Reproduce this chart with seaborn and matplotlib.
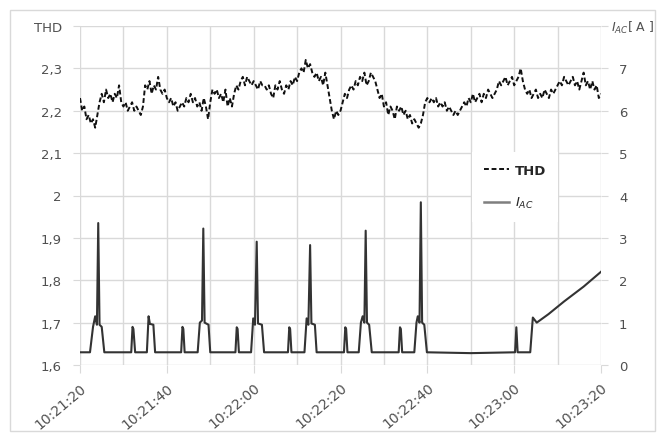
import numpy as np
import pandas as pd
import matplotlib
matplotlib.use("Agg")
import matplotlib.pyplot as plt
from matplotlib.lines import Line2D
from matplotlib.patches import Rectangle
from matplotlib.ticker import MultipleLocator
import seaborn as sns

# ---------------- data ----------------
# seconds after 10:21:20
thd_time = np.arange(0, 120.5, 0.5)
thd_values = [
    2.23, 2.20, 2.21, 2.18, 2.19, 2.17, 2.18, 2.16, 2.19, 2.22,
    2.24, 2.22, 2.25, 2.23, 2.24, 2.22, 2.24, 2.23, 2.26, 2.22,
    2.21, 2.22, 2.20, 2.21, 2.22, 2.20, 2.21, 2.20, 2.19, 2.21,
    2.26, 2.25, 2.27, 2.24, 2.26, 2.25, 2.28, 2.25, 2.24, 2.25,
    2.23, 2.22, 2.23, 2.21, 2.22, 2.20, 2.21, 2.22, 2.21, 2.23,
    2.22, 2.24, 2.22, 2.23, 2.21, 2.22, 2.20, 2.23, 2.21, 2.18,
    2.22, 2.25, 2.24, 2.25, 2.23, 2.24, 2.22, 2.25, 2.21, 2.23,
    2.21, 2.24, 2.26, 2.25, 2.27, 2.28, 2.26, 2.28, 2.27, 2.26,
    2.27, 2.26, 2.25, 2.27, 2.26, 2.26, 2.25, 2.26, 2.24, 2.23,
    2.26, 2.25, 2.27, 2.25, 2.24, 2.26, 2.25, 2.27, 2.26, 2.28,
    2.27, 2.29, 2.30, 2.29, 2.32, 2.30, 2.31, 2.29, 2.28, 2.29,
    2.27, 2.28, 2.26, 2.29, 2.26, 2.23, 2.20, 2.18, 2.20, 2.19,
    2.20, 2.22, 2.24, 2.23, 2.25, 2.26, 2.25, 2.27, 2.26, 2.28,
    2.27, 2.29, 2.26, 2.27, 2.29, 2.28, 2.27, 2.25, 2.23, 2.24,
    2.21, 2.22, 2.19, 2.21, 2.20, 2.18, 2.21, 2.20, 2.21, 2.19,
    2.20, 2.18, 2.19, 2.17, 2.18, 2.17, 2.16, 2.17, 2.19, 2.22,
    2.23, 2.22, 2.23, 2.22, 2.23, 2.21, 2.22, 2.21, 2.22, 2.20,
    2.21, 2.20, 2.19, 2.20, 2.19, 2.20, 2.21, 2.22, 2.21, 2.23,
    2.22, 2.24, 2.22, 2.23, 2.24, 2.22, 2.24, 2.23, 2.25, 2.24,
    2.23, 2.24, 2.25, 2.27, 2.26, 2.27, 2.28, 2.26, 2.27, 2.28,
    2.26, 2.27, 2.28, 2.30, 2.27, 2.25, 2.24, 2.25, 2.23, 2.24,
    2.25, 2.23, 2.24, 2.23, 2.25, 2.24, 2.23, 2.25, 2.24, 2.25,
    2.26, 2.27, 2.26, 2.28, 2.27, 2.26, 2.27, 2.28, 2.26, 2.27,
    2.25, 2.27, 2.29, 2.26, 2.27, 2.25, 2.27, 2.25, 2.26, 2.23,
    2.24,
]

iac_time = [
    0, 2.3, 3.0, 3.5, 3.9, 4.2, 4.5, 5.0, 5.6,
    11.8, 12.1, 12.3, 12.7,
    15.4, 15.8, 16.1, 16.9, 17.3,
    23.3, 23.6, 23.8, 24.1,
    27.1, 27.6, 28.1, 28.4, 28.7, 29.6, 30.0,
    35.8, 36.1, 36.3, 36.6,
    39.4, 39.9, 40.3, 40.7, 41.0, 41.9, 42.4,
    47.9, 48.2, 48.4, 48.7,
    51.7, 52.2, 52.6, 53.0, 53.3, 54.1, 54.5,
    60.8, 61.1, 61.3, 61.6,
    64.2, 64.7, 65.1, 65.5, 65.8, 66.1, 66.6, 67.2,
    73.4, 73.7, 73.9, 74.2,
    77.0, 77.5, 77.8, 78.2, 78.5, 78.8, 79.3, 79.9,
    90.0, 100.2, 100.5, 100.8,
    103.7, 104.3, 105.2, 107.9, 111.5, 116.0, 120.0,
]
iac_values = [
    0.3, 0.3, 0.9, 1.15, 0.95, 3.35, 0.95, 0.9, 0.3,
    0.3, 0.9, 0.85, 0.3,
    0.3, 1.15, 0.97, 0.95, 0.3,
    0.3, 0.9, 0.85, 0.3,
    0.3, 1.0, 1.05, 3.22, 1.0, 0.95, 0.3,
    0.3, 0.89, 0.85, 0.3,
    0.3, 1.1, 0.95, 2.91, 0.98, 0.95, 0.3,
    0.3, 0.89, 0.85, 0.3,
    0.3, 1.1, 0.95, 2.83, 0.98, 0.95, 0.3,
    0.3, 0.89, 0.85, 0.3,
    0.3, 1.0, 1.15, 1.0, 3.17, 1.0, 0.95, 0.3,
    0.3, 0.89, 0.85, 0.3,
    0.3, 1.0, 1.15, 1.0, 3.84, 1.0, 0.95, 0.3,
    0.28, 0.3, 0.89, 0.3,
    0.3, 1.12, 1.0, 1.2, 1.5, 1.85, 2.2,
]

x_tick_pos = [0, 20, 40, 60, 80, 100, 120]
x_tick_labels = ["10:21:20", "10:21:40", "10:22:00", "10:22:20",
                 "10:22:40", "10:23:00", "10:23:20"]
thd_ticks = [1.6, 1.7, 1.8, 1.9, 2.0, 2.1, 2.2, 2.3, 2.4]
iac_ticks = [0, 1, 2, 3, 4, 5, 6, 7, 8]

# ---------------- plot ----------------
plt.rcParams['font.family'] = ['DejaVu Sans']
plt.rcParams['font.size'] = 9.5

grid_c = "#d9d9d9"
text_c = "#505050"

fig = plt.figure(figsize=(6.59, 4.35), dpi=100)
ax = fig.add_axes([80/659, 1-366/435, (601-80)/659, (366-27)/435])
ax2 = ax.twinx()

thd_df = pd.DataFrame({"t": thd_time, "THD": thd_values})
iac_df = pd.DataFrame({"t": iac_time, "IAC": iac_values})

sns.lineplot(data=thd_df, x="t", y="THD", ax=ax, color="#111111",
             linewidth=1.4, estimator=None, legend=False)
ax.lines[0].set_linestyle((0, (2.5, 1.4)))
sns.lineplot(data=iac_df, x="t", y="IAC", ax=ax2, color="#333333",
             linewidth=1.5, estimator=None, legend=False)

ax.set_xlim(0, 120)
ax.set_ylim(1.6, 2.4)
ax2.set_ylim(0, 8)

ax.set_xticks(x_tick_pos)
ax.set_xticklabels(x_tick_labels, rotation=40, ha="right", va="top",
                   rotation_mode="anchor")
ax.xaxis.set_minor_locator(MultipleLocator(10))
ax.set_yticks(thd_ticks)
ax.set_yticklabels(["THD" if abs(v - 2.4) < 1e-9 else f"{v:g}".replace(".", ",")
                    for v in thd_ticks])
ax2.set_yticks(iac_ticks)
ax2.set_yticklabels(["" if v == 8 else f"{v}" for v in iac_ticks])

for a in (ax, ax2):
    for s in a.spines.values():
        s.set_visible(False)
    a.set_xlabel("")
    a.set_ylabel("")

ax.grid(True, which="both", axis="x", color=grid_c, linewidth=1.0)
ax.grid(True, which="major", axis="y", color=grid_c, linewidth=1.0)
ax.set_axisbelow(True)
ax2.grid(False)

ax.tick_params(axis="x", which="major", length=6, color=grid_c, colors=text_c,
               pad=5, labelsize=10)
ax.tick_params(axis="x", which="minor", length=0)
ax.tick_params(axis="y", length=5, color=grid_c, labelcolor=text_c, pad=8,
               labelsize=9.5)
ax2.tick_params(axis="y", length=5, color=grid_c, labelcolor=text_c, pad=8,
                labelsize=9.5)

# right axis title at top
fig.text(611/659, 1-28/435, r"$I_{AC}$[ A ]", ha="left", va="center",
         fontsize=9, color=text_c)

# legend
handles = [
    Line2D([], [], color="#111111", linewidth=1.4, linestyle=(0, (2.5, 1.4))),
    Line2D([], [], color="#7f7f7f", linewidth=1.8),
]
leg = ax2.legend(handles, ["THD", r"$I_{AC}$"], loc="center",
                 bbox_to_anchor=(0.835, 0.525), frameon=True, fancybox=False,
                 edgecolor="none", facecolor="white", framealpha=1.0,
                 handlelength=1.9, handletextpad=0.5, labelspacing=1.4,
                 fontsize=9.5, borderpad=0.9)
for txt in leg.get_texts():
    txt.set_color("#262626")
    txt.set_fontweight("bold")

# chart border
fig.patches.append(Rectangle((10/659, 1-432/435), 645/659, 421/435,
                             transform=fig.transFigure, fill=False,
                             edgecolor="#d9d9d9", linewidth=1.0))

fig.savefig("out.png", dpi=100)
